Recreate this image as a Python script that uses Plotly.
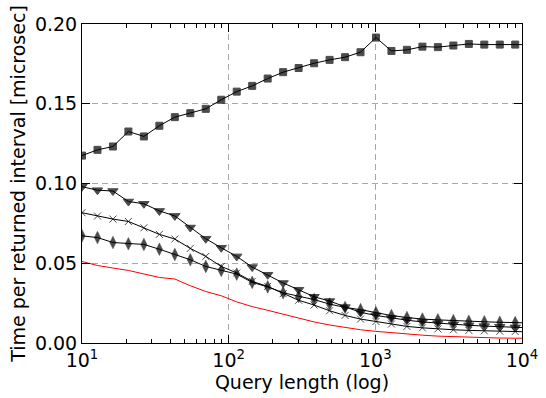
import plotly.graph_objects as go

# Query lengths (x) -- 29 marker points plus the line end at 10^4
query_len = [10, 12.75, 16.25, 20.72, 26.42, 33.69, 42.95, 54.76, 69.82, 89.02,
             113.5, 144.7, 184.5, 235.2, 299.9, 382.4, 487.5, 621.6, 792.5, 1010,
             1288, 1642, 2094, 2670, 3404, 4340, 5534, 7055, 8989, 10000]

squares = [0.1175, 0.1211, 0.1232, 0.1326, 0.1295, 0.1362, 0.1416, 0.1441, 0.1468, 0.1525,
           0.1576, 0.1612, 0.1658, 0.1698, 0.1724, 0.1754, 0.1775, 0.1792, 0.1823, 0.1915,
           0.1831, 0.1838, 0.1858, 0.1855, 0.1865, 0.1875, 0.1871, 0.1871, 0.1871, 0.1871]

triangles = [0.0980, 0.0958, 0.0953, 0.0887, 0.0873, 0.0828, 0.0797, 0.0724, 0.0654, 0.0597,
             0.0543, 0.0476, 0.0428, 0.0376, 0.0334, 0.0290, 0.0263, 0.0225, 0.0192, 0.0173,
             0.0156, 0.0143, 0.0132, 0.0124, 0.0117, 0.0111, 0.0106, 0.0102, 0.0098, 0.0097]

crosses = [0.0817, 0.0796, 0.0777, 0.0762, 0.0722, 0.0681, 0.0652, 0.0593, 0.0543, 0.0480,
           0.0439, 0.0386, 0.0355, 0.0309, 0.0268, 0.0238, 0.0202, 0.0173, 0.0150, 0.0135,
           0.0119, 0.0104, 0.0095, 0.0088, 0.0083, 0.0079, 0.0076, 0.0074, 0.0072, 0.0071]

diamonds = [0.0672, 0.0661, 0.0630, 0.0622, 0.0618, 0.0588, 0.0555, 0.0522, 0.0480, 0.0455,
            0.0432, 0.0380, 0.0352, 0.0315, 0.0292, 0.0272, 0.0244, 0.0223, 0.0209, 0.0190,
            0.0172, 0.0160, 0.0150, 0.0145, 0.0140, 0.0136, 0.0133, 0.0130, 0.0128, 0.0127]

red_line = [0.0511, 0.0486, 0.0470, 0.0455, 0.0433, 0.0411, 0.0401, 0.0359, 0.0323, 0.0296,
            0.0258, 0.0228, 0.0205, 0.0180, 0.0155, 0.0132, 0.0113, 0.0097, 0.0083, 0.0073,
            0.0064, 0.0056, 0.0049, 0.0043, 0.0039, 0.0035, 0.0033, 0.0031, 0.0030, 0.0030]

x_tickvals = [10, 100, 1000, 10000]
x_ticktext = ["10<sup>1</sup>", "10<sup>2</sup>", "10<sup>3</sup>", "10<sup>4</sup>"]
y_ticks = [0.00, 0.05, 0.10, 0.15, 0.20]

FONT = "DejaVu Sans"
n = len(query_len)

def msizes(s):
    return [s] * (n - 1) + [0]

mline = dict(color="black", width=1)

fig = go.Figure()
fig.add_trace(go.Scatter(x=query_len, y=red_line, mode="lines",
                         line=dict(color="#ff0000", width=1), showlegend=False))
fig.add_trace(go.Scatter(x=query_len, y=squares, mode="lines+markers",
                         line=dict(color="black", width=1),
                         marker=dict(symbol="square", size=msizes(7), color="black", line=mline),
                         showlegend=False))
fig.add_trace(go.Scatter(x=query_len, y=triangles, mode="lines+markers",
                         line=dict(color="black", width=1),
                         marker=dict(symbol="triangle-down", size=msizes(9), color="black", line=mline),
                         showlegend=False))
fig.add_trace(go.Scatter(x=query_len, y=crosses, mode="lines+markers",
                         line=dict(color="black", width=1),
                         marker=dict(symbol="x-thin", size=msizes(7), color="black", line=mline),
                         showlegend=False))
fig.add_trace(go.Scatter(x=query_len, y=diamonds, mode="lines+markers",
                         line=dict(color="black", width=1),
                         marker=dict(symbol="diamond-tall", size=msizes(9), color="black",
                                     line=dict(color="black", width=0.5)),
                         showlegend=False))

fig.update_layout(
    width=546, height=398,
    margin=dict(l=82, r=24, t=24, b=55),
    paper_bgcolor="white", plot_bgcolor="white",
    font=dict(family=FONT, size=19, color="black"),
)
fig.update_xaxes(
    type="log", range=[1, 4], tickvals=x_tickvals, ticktext=x_ticktext,
    automargin=False,
    showline=True, linecolor="black", linewidth=1, mirror="allticks",
    ticks="inside", ticklen=8, tickcolor="black",
    showgrid=True, gridcolor="#a8a8a8", griddash="6px,4px", gridwidth=1,
    minor=dict(ticks="inside", ticklen=4, tickcolor="black", dtick="D1", showgrid=False),
    title=dict(text="Query length (log)", font=dict(size=19), standoff=2),
    tickfont=dict(size=19), zeroline=False,
)
fig.update_yaxes(
    range=[0, 0.2], tickvals=y_ticks, tickformat=".2f",
    automargin=False,
    showline=True, linecolor="black", linewidth=1, mirror="allticks",
    ticks="inside", ticklen=8, tickcolor="black",
    showgrid=True, gridcolor="#a8a8a8", griddash="6px,4px", gridwidth=1,
    title=dict(text="Time per returned interval [microsec]", font=dict(size=19), standoff=4),
    tickfont=dict(size=19), zeroline=False,
)

fig.write_html("out.html")
